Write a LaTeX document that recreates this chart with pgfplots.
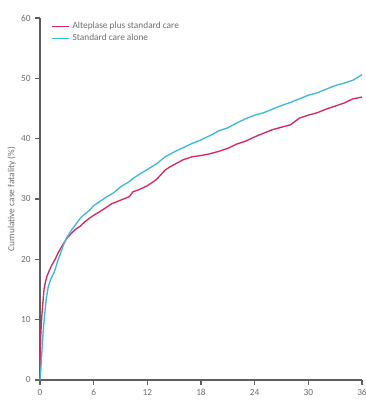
\documentclass[border=0pt]{standalone}
\usepackage{pgfplots}
\pgfplotsset{compat=1.18}
\usepackage{fontspec}
\setmainfont{Carlito}
\definecolor{alte}{RGB}{214,40,90}
\definecolor{std}{RGB}{60,185,215}
\definecolor{axgray}{RGB}{95,95,95}
\definecolor{txtgray}{RGB}{110,110,110}
\pgfplotstableread{
x y
0 0
0.05 5
0.1 8
0.2 10.5
0.3 12.5
0.45 15
0.6 16.2
0.8 17.3
1.0 18
1.3 19
1.7 20
2.0 21
2.5 22.3
3.0 23.5
3.5 24.3
4.0 25
4.5 25.5
5.0 26.2
5.5 26.8
6.0 27.3
6.7 27.9
7.5 28.7
8.0 29.2
9.0 29.8
10.0 30.4
10.4 31.2
11.0 31.5
12.0 32.2
13.0 33.2
14.0 34.8
14.5 35.3
15.0 35.7
16.0 36.5
17.0 37.0
18.0 37.2
19.0 37.5
20.0 37.9
21.0 38.4
22.0 39.1
23.0 39.6
24.0 40.3
25.0 40.9
26.0 41.5
27.0 41.9
28.0 42.3
29.0 43.4
30.0 43.9
31.0 44.3
32.0 44.9
33.0 45.4
34.0 45.9
35.0 46.6
36.0 46.9
}\alteplase
\pgfplotstableread{
x y
0 0
0.1 2
0.2 4.4
0.35 8
0.5 10.5
0.7 13.5
0.93 15.5
1.2 16.7
1.6 17.9
2.0 19.8
2.3 21.0
2.6 22.3
3.0 23.6
3.5 24.8
4.0 25.8
4.5 26.8
5.0 27.5
5.6 28.2
6.0 28.9
6.7 29.6
7.5 30.4
8.2 31.0
9.0 32.0
10.0 32.9
10.4 33.4
11.0 34.0
12.0 34.9
13.0 35.8
14.0 37.0
15.0 37.8
16.0 38.5
17.0 39.2
18.0 39.8
19.0 40.5
20.0 41.3
21.0 41.8
22.0 42.6
23.0 43.3
24.0 43.9
25.0 44.3
26.0 44.9
27.0 45.5
28.0 46.0
29.0 46.6
30.0 47.2
31.0 47.6
32.0 48.2
33.0 48.8
34.0 49.2
35.0 49.7
36.0 50.6
}\standard
\begin{document}
\begin{tikzpicture}[x=0.75pt,y=0.75pt]
\path[use as bounding box] (-40,-21) rectangle (326,380);
\begin{axis}[
  at={(0,0)}, anchor=origin,
  scale only axis,
  width=241.5pt, height=271.5pt,
  xmin=0, xmax=36, ymin=0, ymax=60,
  axis lines*=left,
  axis line style={axgray, line width=0.8pt},
  xtick={0,6,...,36}, ytick={0,10,...,60},
  tick style={axgray, line width=0.8pt},
  tick align=outside,
  major tick length=3.5pt,
  tick label style={font=\fontsize{7}{8}\selectfont, text=txtgray},
  /pgf/number format/assume math mode=true,
  ylabel={Cumulative case fatality (\%)},
  ylabel style={font=\fontsize{7}{8}\selectfont, text=txtgray, at={(axis description cs:-0.088,0.5)}, anchor=center},
  legend style={draw=none, fill=none, at={(axis description cs:0.03,1.0)}, anchor=north west,
    font=\fontsize{7}{8}\selectfont, text=txtgray, row sep=-1.5pt, inner sep=1pt},
  legend cell align=left,
  legend image post style={line width=1.2pt},
  legend image code/.code={\draw[#1] (0cm,0cm) -- (0.45cm,0cm);},
  clip=false,
]
\addplot[alte, line width=1pt] table[x=x,y=y] {\alteplase};
\addlegendentry{Alteplase plus standard care}
\addplot[std, line width=1pt] table[x=x,y=y] {\standard};
\addlegendentry{Standard care alone}
\end{axis}
\end{tikzpicture}
\end{document}
